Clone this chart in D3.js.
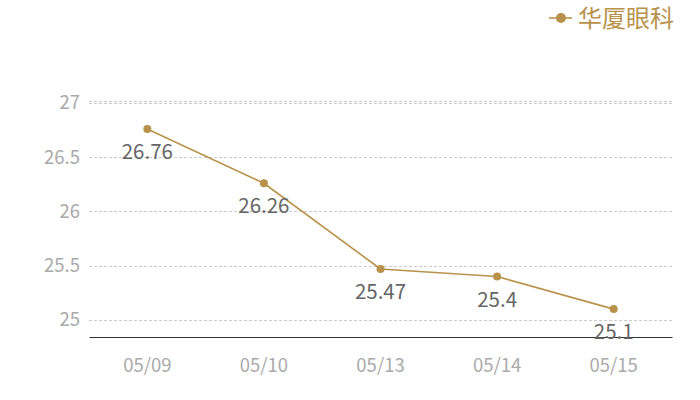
<!DOCTYPE html>
<html><head><meta charset="utf-8">
<script src="https://cdn.jsdelivr.net/npm/d3@7/dist/d3.min.js"></script>
<style>body{margin:0;background:#fff}svg{display:block;font-family:"Noto Sans CJK SC","Open Sans",sans-serif}</style>
</head><body><svg id="c" width="700" height="400"></svg>
<script>
const categories = ["05/09","05/10","05/13","05/14","05/15"];
const values = [26.76, 26.26, 25.47, 25.4, 25.1];
const yTicks = [25, 25.5, 26, 26.5, 27];
const seriesName = "华厦眼科";
const color = "#b8924a";

(function () {
const svg = d3.select("#c");
const mLeft = 89, mRight = 672, mTop = 101, mBottom = 337;
const x = d3.scaleBand().domain(categories).range([mLeft, mRight]);
const y = d3.scaleLinear().domain([24.843, 27.018]).range([mBottom, mTop]);

// grid
const grid = svg.append("g");
grid.selectAll("line.g").data(yTicks.concat([y.domain()[1]])).join("line")
  .attr("x1", mLeft).attr("x2", mRight)
  .attr("y1", d => Math.round(y(d)) + 0.5).attr("y2", d => Math.round(y(d)) + 0.5)
  .attr("stroke", "#ccc").attr("stroke-dasharray", "3,2").attr("stroke-width", 1);

// y axis labels
const yAxis = svg.append("g").attr("transform", `translate(${mLeft},0)`)
  .call(d3.axisLeft(y).tickValues(yTicks).tickSize(0).tickPadding(9).tickFormat(d => d3.format("")(d)))
  .attr("font-family", null).attr("font-size", null);
yAxis.select(".domain").remove();
yAxis.selectAll("text").attr("fill", "#aaa").style("font-size", "18.5px");

// x axis
const xAxis = svg.append("g").attr("transform", `translate(0,${mBottom})`)
  .call(d3.axisBottom(x).tickSize(0).tickPadding(22))
  .attr("font-family", null).attr("font-size", null);
xAxis.select(".domain").attr("stroke", "#333").attr("stroke-width", 1.2);
xAxis.selectAll("text").attr("fill", "#aaa").style("font-size", "18.5px");

// line
const pts = categories.map((c, i) => [x(c) + x.bandwidth() / 2, y(values[i])]);
svg.append("path").datum(pts).attr("d", d3.line())
  .attr("fill", "none").attr("stroke", color).attr("stroke-width", 1.6);
svg.selectAll("circle.p").data(pts).join("circle")
  .attr("cx", d => d[0]).attr("cy", d => d[1]).attr("r", 4).attr("fill", color);
svg.selectAll("text.v").data(values).join("text")
  .attr("x", (d, i) => pts[i][0]).attr("y", (d, i) => pts[i][1] + 30)
  .attr("text-anchor", "middle").attr("fill", "#666").style("font-size", "20.5px")
  .text(d => d);

// legend
const lg = svg.append("g");
lg.append("line").attr("x1", 549).attr("x2", 572).attr("y1", 18).attr("y2", 18).attr("stroke", color).attr("stroke-width", 1.6);
lg.append("circle").attr("cx", 561).attr("cy", 18).attr("r", 5).attr("fill", color);
lg.append("text").attr("x", 578).attr("y", 27).attr("fill", color).style("font-size", "24px").text(seriesName);
})();
</script></body></html>
